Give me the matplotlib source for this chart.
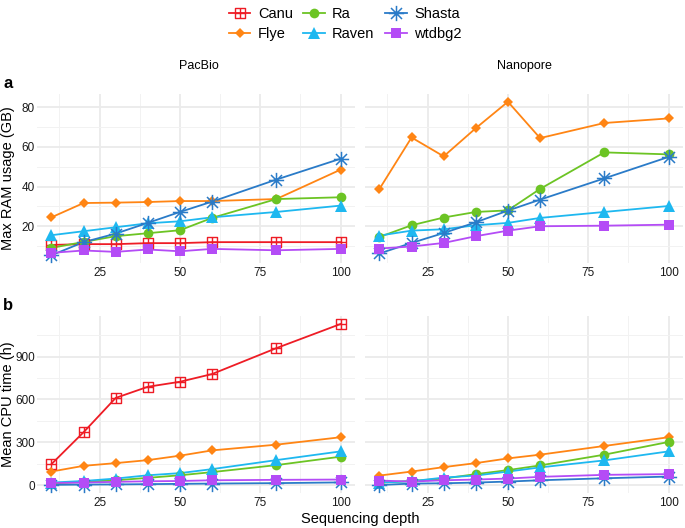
import matplotlib
matplotlib.use("Agg")
import matplotlib.pyplot as plt
from matplotlib.path import Path
from matplotlib.lines import Line2D
import numpy as np

plt.rcParams['font.family'] = ['Liberation Sans', 'DejaVu Sans']

depth = [10, 20, 30, 40, 50, 60, 80, 100]
tools = ["Canu", "Flye", "Ra", "Raven", "Shasta", "wtdbg2"]

# Max RAM usage (GB)
ram_pacbio = {
    "Canu":   [10.6, 11.0, 11.0, 11.5, 11.5, 12.0, 12.0, 12.0],
    "Flye":   [24.5, 31.7, 31.9, 32.2, 32.7, 32.7, 33.7, 48.5],
    "Ra":     [9.1, 12.1, 15.0, 16.5, 18.0, 24.2, 33.7, 34.6],
    "Raven":  [15.5, 17.5, 19.5, 21.5, 22.5, 24.5, 27.2, 30.4],
    "Shasta": [5.4, 12.0, 16.3, 21.7, 27.2, 32.4, 43.5, 54.0],
    "wtdbg2": [6.6, 7.8, 7.1, 8.3, 7.4, 8.6, 7.9, 8.6],
}
ram_nanopore = {
    "Flye":   [38.8, 64.7, 55.2, 69.4, 82.7, 64.4, 72.0, 74.3],
    "Ra":     [14.6, 20.5, 24.4, 27.2, 28.0, 38.8, 57.2, 56.2],
    "Raven":  [15.3, 17.8, 18.5, 20.5, 21.7, 24.2, 27.2, 30.2],
    "Shasta": [6.3, 11.6, 16.6, 22.0, 27.9, 33.4, 44.1, 54.9],
    "wtdbg2": [8.8, 9.8, 11.6, 15.0, 17.8, 20.0, 20.3, 20.8],
}
# Mean CPU time (h)
cpu_pacbio = {
    "Canu":   [148, 371, 611, 689, 724, 778, 959, 1128],
    "Flye":   [96, 136, 155, 176, 207, 244, 284, 336],
    "Ra":     [12, 24, 35, 52, 70, 92, 141, 200],
    "Raven":  [19, 30, 47, 70, 85, 113, 176, 237],
    "Shasta": [3, 5, 6, 8, 10, 12, 15, 20],
    "wtdbg2": [16, 19, 24, 28, 30, 35, 38, 40],
}
cpu_nanopore = {
    "Flye":   [68, 96, 127, 155, 188, 214, 275, 336],
    "Ra":     [19, 30, 47, 78, 106, 139, 214, 303],
    "Raven":  [19, 28, 54, 68, 96, 125, 174, 237],
    "Shasta": [2, 12, 14, 19, 26, 35, 49, 61],
    "wtdbg2": [33, 26, 35, 40, 47, 59, 73, 78],
}

colors = {"Canu": "#EE1C25", "Flye": "#FF8514", "Ra": "#6CC424",
          "Raven": "#1EB8F0", "Shasta": "#2A7BC8", "wtdbg2": "#B44CF6"}

sq_plus = Path([(-1, -1), (1, -1), (1, 1), (-1, 1), (-1, -1),
                (0, -1), (0, 1), (-1, 0), (1, 0)],
               [Path.MOVETO, Path.LINETO, Path.LINETO, Path.LINETO, Path.CLOSEPOLY,
                Path.MOVETO, Path.LINETO, Path.MOVETO, Path.LINETO])
d = 0.72
asterisk = Path([(-1, 0), (1, 0), (0, -1), (0, 1), (-d, -d), (d, d), (-d, d), (d, -d)],
                [Path.MOVETO, Path.LINETO] * 4)

mstyle = {
    "Canu":   dict(marker=sq_plus, ms=7, mfc='none', mew=1.0),
    "Flye":   dict(marker='D', ms=5.5, mew=0),
    "Ra":     dict(marker='o', ms=7, mew=0),
    "Raven":  dict(marker='^', ms=8, mew=0),
    "Shasta": dict(marker=asterisk, ms=11, mfc='none', mew=1.1),
    "wtdbg2": dict(marker='s', ms=7, mew=0),
}

W, H = 685, 528
fig = plt.figure(figsize=(W / 100, H / 100), dpi=100)

def ax_at(l, t, r, b):
    return fig.add_axes([l / W, 1 - b / H, (r - l) / W, (b - t) / H])

ax_tl = ax_at(37, 94, 355, 263)
ax_tr = ax_at(365, 94, 683, 263)
ax_bl = ax_at(37, 316, 355, 493)
ax_br = ax_at(365, 316, 683, 493)

def draw(ax, data, ylim, ymaj, ymin, showy):
    ax.set_xlim(5.5, 104.5)
    ax.set_ylim(*ylim)
    for s in ax.spines.values():
        s.set_visible(False)
    ax.set_xticks([25, 50, 75, 100])
    ax.set_xticks([12.5, 37.5, 62.5, 87.5], minor=True)
    ax.set_yticks(ymaj)
    ax.set_yticks(ymin, minor=True)
    ax.grid(True, which='major', color='#EBEBEB', lw=1.3)
    ax.grid(True, which='minor', color='#F2F2F2', lw=0.7)
    ax.set_axisbelow(True)
    ax.tick_params(which='both', length=0, labelsize=8.5, colors='#1a1a1a')
    ax.tick_params(axis='y', pad=1.5)
    ax.tick_params(axis='x', pad=3)
    if not showy:
        ax.tick_params(axis='y', labelleft=False)
    for t in tools:
        if t in data:
            ax.plot(depth, data[t], color=colors[t], lw=1.3, zorder=2)
    for t in tools:
        if t in data:
            st = dict(mstyle[t])
            ax.plot(depth, data[t], ls='none', color=colors[t], mec=colors[t],
                    zorder=3, **st)

ram_lim = (1.5, 86.6)
cpu_lim = (-54, 1184)
draw(ax_tl, ram_pacbio, ram_lim, [20, 40, 60, 80], [10, 30, 50, 70], True)
draw(ax_tr, ram_nanopore, ram_lim, [20, 40, 60, 80], [10, 30, 50, 70], False)
draw(ax_bl, cpu_pacbio, cpu_lim, [0, 300, 600, 900], [150, 450, 750, 1050], True)
draw(ax_br, cpu_nanopore, cpu_lim, [0, 300, 600, 900], [150, 450, 750, 1050], False)

fig.text(199 / W, 1 - 66 / H, "PacBio", ha='center', va='center', fontsize=9)
fig.text(524 / W, 1 - 66 / H, "Nanopore", ha='center', va='center', fontsize=9)
fig.text(3 / W, 1 - 83 / H, "a", ha='left', va='center', fontsize=12, fontweight='bold')
fig.text(3 / W, 1 - 305 / H, "b", ha='left', va='center', fontsize=12, fontweight='bold')
fig.text(8 / W, 1 - 178 / H, "Max RAM usage (GB)", rotation=90, ha='center', va='center', fontsize=10.5)
fig.text(8 / W, 1 - 404 / H, "Mean CPU time (h)", rotation=90, ha='center', va='center', fontsize=10.5)
fig.text(360 / W, 1 - 519 / H, "Sequencing depth", ha='center', va='center', fontsize=10.5)

handles = []
for t in tools:
    st = dict(mstyle[t])
    handles.append(Line2D([], [], color=colors[t], mec=colors[t], lw=1.3, **st))
fig.legend(handles, tools, loc='center', bbox_to_anchor=(345 / W, 1 - 24 / H), ncol=3,
           frameon=False, fontsize=10.5, handlelength=1.5, handletextpad=0.5,
           columnspacing=0.7, labelspacing=0.45, borderpad=0)

fig.savefig("out.png", dpi=100)
